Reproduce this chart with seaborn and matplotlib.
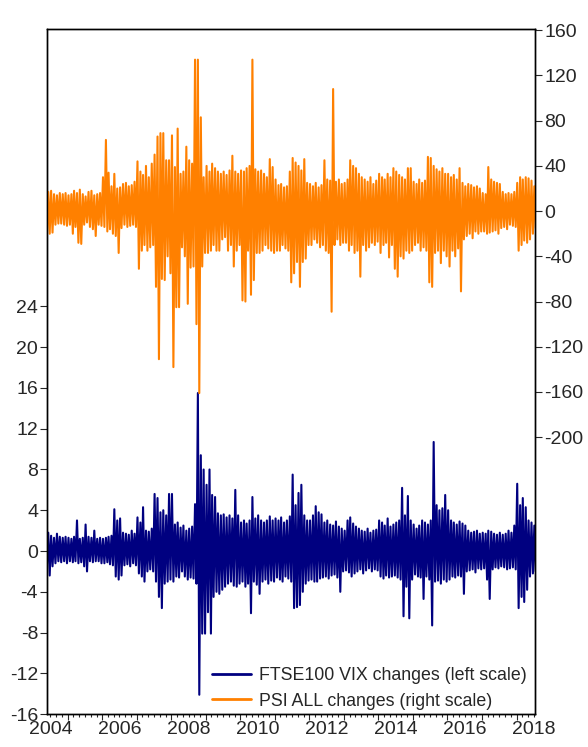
import numpy as np
import pandas as pd
import matplotlib
matplotlib.use("Agg")
import matplotlib.pyplot as plt
import matplotlib.dates as mdates
from matplotlib.lines import Line2D
import seaborn as sns

# monthly high / low of the daily changes, May 2004 .. Jul 2018
# FTSE100 VIX changes (left scale)
vix_hi = [2.0, 1.8, 1.5, 1.3, 1.7, 1.4, 1.3, 1.4,                          # 2004
          1.3, 1.2, 1.4, 3.0, 1.2, 1.3, 2.6, 1.4, 1.3, 2.0, 1.2, 1.3,      # 2005
          1.2, 1.3, 1.4, 1.5, 4.1, 3.0, 3.2, 1.8, 1.7, 1.6, 2.0, 1.7,      # 2006
          3.3, 2.8, 4.3, 2.0, 1.9, 2.2, 5.6, 5.2, 3.8, 4.0, 3.5, 5.6,      # 2007
          5.6, 2.6, 2.8, 2.3, 2.5, 2.0, 2.2, 2.4, 4.6, 15.5, 9.4, 8.0,     # 2008
          6.5, 8.0, 5.5, 5.3, 3.7, 3.5, 3.6, 3.3, 3.5, 3.2, 6.0, 3.5,      # 2009
          2.8, 3.0, 2.7, 3.0, 5.3, 3.2, 3.5, 3.0, 2.8, 3.0, 3.4, 3.0,      # 2010
          3.2, 3.0, 3.3, 2.8, 3.0, 3.4, 7.5, 4.5, 5.7, 6.5, 3.5, 3.0,      # 2011
          3.0, 3.5, 4.4, 3.8, 3.6, 2.8, 3.0, 2.6, 2.5, 2.9, 2.4, 2.2,      # 2012
          2.0, 3.0, 3.3, 2.7, 2.4, 2.2, 2.0, 1.9, 2.2, 1.8, 2.0, 2.1,      # 2013
          3.0, 2.8, 2.5, 3.2, 2.4, 2.6, 2.8, 3.0, 6.2, 3.5, 5.4, 3.0,      # 2014
          2.6, 2.2, 2.5, 3.0, 2.8, 2.6, 3.0, 10.7, 4.5, 4.0, 4.2, 5.5,     # 2015
          4.0, 3.0, 2.8, 2.6, 2.9, 2.7, 2.5, 2.0, 1.8, 1.9, 2.0, 1.7,      # 2016
          1.8, 1.7, 2.0, 1.9, 1.7, 1.6, 1.8, 1.6, 1.7, 2.0, 1.8, 2.5,      # 2017
          6.6, 4.5, 5.2, 4.3, 3.0, 2.8, 2.5]                               # 2018
vix_lo = [-1.8, -2.4, -1.5, -1.2, -1.0, -1.1, -1.0, -1.2,
          -1.0, -1.1, -1.0, -1.2, -1.1, -1.5, -2.0, -1.0, -1.1, -1.0, -1.0, -1.2,
          -1.2, -1.1, -1.3, -1.4, -2.5, -2.8, -2.4, -1.4, -1.3, -1.5, -1.2, -1.4,
          -2.2, -2.5, -3.0, -2.0, -1.8, -2.0, -3.0, -4.5, -5.6, -3.2, -3.0, -2.8,
          -3.0, -2.5, -2.6, -2.0, -2.5, -2.8, -2.6, -2.7, -3.2, -14.1, -8.1, -8.1,
          -6.0, -8.1, -4.5, -4.0, -4.2, -3.8, -3.5, -3.2, -3.0, -3.4, -3.5, -3.2,
          -3.0, -3.5, -3.2, -6.1, -3.0, -3.3, -4.2, -3.0, -2.8, -3.2, -2.9, -3.0,
          -2.6, -2.8, -3.0, -2.5, -2.7, -3.0, -5.6, -5.5, -5.3, -4.0, -3.2, -2.9,
          -2.8, -3.0, -3.0, -2.7, -2.6, -2.5, -2.7, -2.4, -2.3, -2.6, -4.0, -2.0,
          -1.9, -2.1, -2.5, -2.2, -2.0, -1.8, -2.2, -1.9, -1.7, -2.0, -1.8, -1.9,
          -2.5, -2.7, -2.4, -2.6, -2.5, -2.4, -2.6, -2.8, -6.4, -3.5, -6.6, -2.8,
          -2.3, -2.5, -2.6, -4.7, -2.5, -2.8, -7.3, -3.0, -2.9, -3.2, -2.8, -3.0,
          -2.8, -2.5, -2.6, -2.4, -2.5, -4.2, -2.0, -1.9, -1.8, -2.1, -1.7, -1.8,
          -1.7, -2.8, -4.7, -1.8, -1.6, -1.7, -1.5, -1.6, -1.8, -1.7, -1.6, -1.8,
          -5.6, -4.5, -5.0, -3.8, -2.5, -2.2, -2.0]

# PSI ALL changes (right scale)
psi_hi = [16, 17, 18, 15, 14, 16, 15, 16,
          14, 15, 18, 16, 19, 15, 13, 17, 18, 14, 15, 16,
          30, 63, 34, 22, 33, 20, 21, 24, 25, 22, 23, 26,
          44, 35, 32, 40, 30, 42, 50, 66, 69, 69, 45, 45,
          67, 39, 73, 33, 35, 57, 45, 42, 134, 134, 83, 30,
          40, 35, 42, 38, 35, 33, 35, 32, 36, 49, 35, 33,
          36, 35, 38, 40, 134, 37, 35, 36, 33, 30, 46, 39,
          28, 23, 24, 21, 22, 35, 47, 43, 40, 36, 46, 25,
          24, 22, 25, 21, 23, 45, 28, 27, 108, 26, 28, 24,
          25, 28, 45, 40, 38, 33, 30, 28, 26, 30, 24, 27,
          33, 30, 28, 33, 30, 38, 35, 32, 30, 28, 38, 38,
          26, 24, 28, 25, 27, 48, 47, 40, 37, 35, 38, 33,
          33, 30, 32, 28, 38, 25, 22, 24, 23, 21, 22, 20,
          16, 15, 39, 28, 26, 25, 24, 17, 15, 16, 15, 17,
          25, 30, 28, 30, 29, 27, 22]
psi_lo = [-24, -20, -19, -12, -11, -11, -12, -13,
          -12, -20, -14, -28, -29, -12, -10, -14, -16, -22, -12, -13,
          -14, -18, -16, -20, -22, -37, -15, -12, -14, -13, -12, -14,
          -51, -35, -30, -35, -32, -30, -67, -131, -60, -61, -40, -55,
          -138, -85, -85, -32, -40, -82, -50, -49, -100, -161, -49, -37,
          -37, -35, -30, -35, -35, -25, -23, -35, -30, -49, -35, -30,
          -79, -80, -35, -74, -61, -37, -37, -35, -30, -33, -35, -37,
          -35, -35, -30, -33, -35, -63, -55, -45, -67, -45, -42, -30,
          -30, -25, -28, -32, -30, -35, -37, -89, -30, -25, -30, -28,
          -28, -35, -30, -37, -35, -58, -30, -35, -32, -28, -30, -27,
          -37, -30, -28, -41, -30, -51, -58, -40, -42, -35, -37, -35,
          -30, -28, -35, -32, -35, -63, -67, -37, -35, -46, -35, -40,
          -49, -35, -40, -33, -71, -25, -22, -20, -24, -18, -20, -18,
          -18, -20, -19, -18, -17, -20, -15, -14, -16, -12, -13, -14,
          -35, -30, -26, -28, -25, -20, -15]

year_labels = ["2004", "2006", "2008", "2010", "2012", "2014", "2016", "2018"]
vix_label = "FTSE100 VIX changes (left scale)"
psi_label = "PSI ALL changes (right scale)"

months = pd.date_range("2004-05-01", periods=len(vix_hi), freq="MS")
dates = np.ravel(np.column_stack([months + pd.Timedelta(days=7),
                                  months + pd.Timedelta(days=22)]))
df = pd.DataFrame({
    "date": dates,
    "vix": np.ravel(np.column_stack([vix_hi, vix_lo])),
    "psi": np.ravel(np.column_stack([psi_hi, psi_lo])),
})

sns.set_style("ticks")
plt.rcParams["font.family"] = ["Liberation Sans", "DejaVu Sans"]
plt.rcParams["axes.unicode_minus"] = False

navy = "#000080"
orange = "#FF8000"

fig = plt.figure(figsize=(5.88, 7.47), dpi=100)
ax = fig.add_axes([0.080, 0.044, 0.830, 0.917])
ax2 = ax.twinx()

sns.lineplot(data=df, x="date", y="vix", ax=ax, color=navy, lw=1.5,
             estimator=None, sort=False, legend=False)
sns.lineplot(data=df, x="date", y="psi", ax=ax2, color=orange, lw=1.5,
             estimator=None, sort=False, legend=False)

ax.set_xlim(pd.Timestamp("2004-05-26"), pd.Timestamp("2018-07-16"))
ax.set_ylim(-16, 51.2)
ax2.set_ylim(-445, 161)
ax.set_yticks(np.arange(-16, 25, 4))
ax2.set_yticks(np.arange(-200, 161, 40))

ax.xaxis.set_major_locator(mdates.YearLocator())
ax.xaxis.set_minor_locator(mdates.MonthLocator(bymonth=[3, 5, 7, 9, 11]))
ax.xaxis.set_major_formatter(plt.NullFormatter())
ax.set_xlabel("")
ax.set_ylabel("")
ax2.set_ylabel("")

for a in (ax, ax2):
    for s in a.spines.values():
        s.set_visible(True)
        s.set_linewidth(1.0)
        s.set_color("black")
ax.tick_params(axis="x", which="major", direction="out", length=4, width=0.8)
ax.tick_params(axis="x", which="minor", direction="out", length=2.5, width=0.8)
ax.tick_params(axis="y", direction="out", length=5, width=0.8, pad=1.5, labelsize=14)
ax2.tick_params(axis="y", direction="out", length=5, width=0.8, pad=1.5, labelsize=14)

for lab in year_labels:
    mid = pd.Timestamp(lab + "-07-01")
    ax.annotate(lab, xy=(mid, 0), xycoords=("data", "axes fraction"),
                xytext=(0, -5), textcoords="offset points",
                ha="center", va="top", fontsize=14, annotation_clip=False)

handles = [Line2D([], [], color=navy, lw=2.0), Line2D([], [], color=orange, lw=2.0)]
ax2.legend(handles, [vix_label, psi_label], loc="lower left",
           bbox_to_anchor=(0.36, 0.05), bbox_transform=fig.transFigure,
           frameon=False, fontsize=12.8, handlelength=2.2, handletextpad=0.45,
           labelspacing=0.5, borderpad=0, borderaxespad=0)

fig.savefig("out.png", dpi=100, facecolor="white")
